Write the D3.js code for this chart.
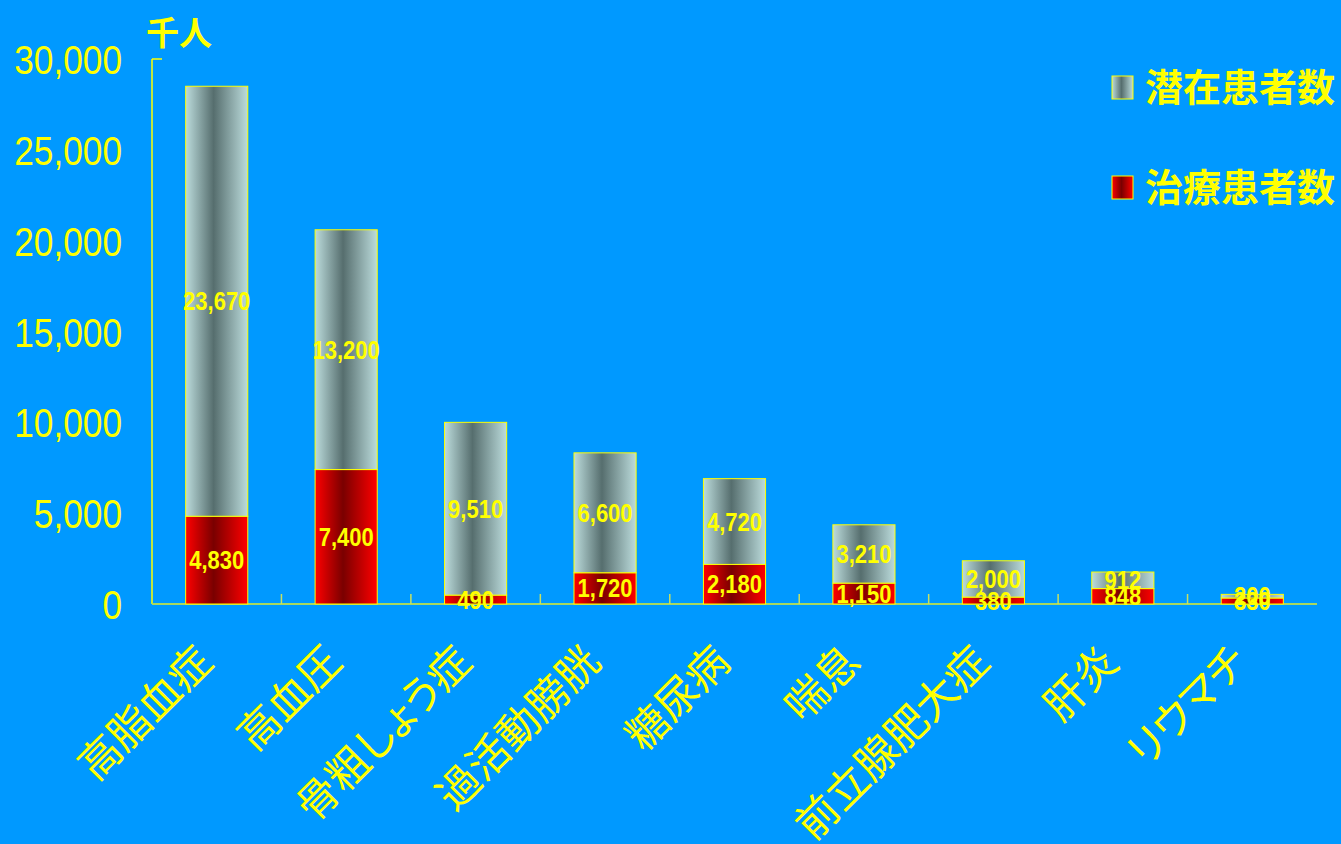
<!DOCTYPE html>
<html>
<head>
<meta charset="utf-8">
<script src="https://cdn.jsdelivr.net/npm/d3@7"></script>
<style>
  body { margin: 0; background: #0099ff; }
  svg { display: block; }
  .cat { font-feature-settings: "palt"; }
</style>
</head>
<body>
<div id="chart"></div>
<script>
// data (thousand people)
const categories = ["高脂血症", "高血圧", "骨粗しょう症", "過活動膀胱", "糖尿病", "喘息", "前立腺肥大症", "肝炎", "リウマチ"];
const treated = [4830, 7400, 490, 1720, 2180, 1150, 380, 848, 330];
const potential = [23670, 13200, 9510, 6600, 4720, 3210, 2000, 912, 200];
const yTicks = [0, 5000, 10000, 15000, 20000, 25000, 30000];
const seriesNames = ["潜在患者数", "治療患者数"];

const W = 1341, H = 844;
const margin = {top: 59, left: 152, right: 24, bottom: 240};
const yellow = "#ffff00";
const sans = "'Liberation Sans', Arial, sans-serif";
const cjk = "'Noto Sans CJK JP', 'Noto Sans', sans-serif";

const svg = d3.select("#chart").append("svg")
    .attr("width", W).attr("height", H);

svg.append("rect").attr("width", W).attr("height", H).attr("fill", "#0099ff");

// gradients
const defs = svg.append("defs");
function grad(id, edge, mid) {
    const g = defs.append("linearGradient").attr("id", id)
        .attr("x1", "0%").attr("x2", "100%").attr("y1", "0%").attr("y2", "0%");
    g.append("stop").attr("offset", "0%").attr("stop-color", edge);
    g.append("stop").attr("offset", "45%").attr("stop-color", mid);
    g.append("stop").attr("offset", "100%").attr("stop-color", edge);
}
grad("gGrey", "#bcdcdc", "#566e6e");
grad("gRed", "#ff0000", "#7a0000");

const x = d3.scaleBand().domain(categories)
    .range([margin.left, W - margin.right])
    .paddingInner(0.52).paddingOuter(0.26);
const xStep = d3.scaleBand().domain(categories)
    .range([margin.left, W - margin.right]);
const y = d3.scaleLinear().domain([0, 30000])
    .range([H - margin.bottom, margin.top]);

const data = categories.map((c, i) => ({cat: c, t: treated[i], p: potential[i]}));

// y axis
svg.append("line")
    .attr("x1", margin.left).attr("x2", margin.left)
    .attr("y1", y(30000)).attr("y2", y(0))
    .attr("stroke", yellow).attr("stroke-width", 1.5);
svg.append("line")
    .attr("x1", margin.left).attr("x2", margin.left + 10)
    .attr("y1", y(30000)).attr("y2", y(30000))
    .attr("stroke", yellow).attr("stroke-width", 1.5);

// narrow-looking numbers: squeeze horizontally
svg.selectAll(".ytick")
    .data(yTicks)
    .join("text")
    .attr("transform", d => `translate(122,${y(d) + 15}) scale(0.86,1)`)
    .attr("text-anchor", "end")
    .attr("font-family", sans)
    .attr("font-size", 41)
    .attr("fill", yellow)
    .text(d => d3.format(",")(d));

// unit
svg.append("text")
    .attr("x", 146).attr("y", 45)
    .attr("font-family", cjk)
    .attr("font-weight", "bold")
    .attr("font-size", 33)
    .attr("fill", yellow)
    .text("千人");

// x baseline and category ticks
svg.append("line")
    .attr("x1", margin.left).attr("x2", W - margin.right)
    .attr("y1", y(0)).attr("y2", y(0))
    .attr("stroke", "#a8d860").attr("stroke-width", 2);
svg.selectAll(".xtick")
    .data(categories.slice(1))
    .join("line")
    .attr("x1", d => xStep(d)).attr("x2", d => xStep(d))
    .attr("y1", y(0)).attr("y2", y(0) - 10)
    .attr("stroke", "#c8e060").attr("stroke-width", 1.5);

// bars
const bars = svg.append("g");
bars.selectAll(".red")
    .data(data)
    .join("rect")
    .attr("x", d => x(d.cat))
    .attr("width", x.bandwidth())
    .attr("y", d => y(d.t))
    .attr("height", d => y(0) - y(d.t))
    .attr("fill", "url(#gRed)")
    .attr("stroke", yellow).attr("stroke-width", 1);
bars.selectAll(".grey")
    .data(data)
    .join("rect")
    .attr("x", d => x(d.cat))
    .attr("width", x.bandwidth())
    .attr("y", d => y(d.t + d.p))
    .attr("height", d => y(d.t) - y(d.t + d.p))
    .attr("fill", "url(#gGrey)")
    .attr("stroke", yellow).attr("stroke-width", 1);

// value labels
const fmt = d3.format(",");
function valLabels(acc, mid) {
    svg.append("g").selectAll("text")
        .data(data)
        .join("text")
        .attr("transform", d => `translate(${x(d.cat) + x.bandwidth() / 2},${mid(d) + 9}) scale(0.88,1)`)
        .attr("text-anchor", "middle")
        .attr("font-family", sans)
        .attr("font-weight", "bold")
        .attr("font-size", 25)
        .attr("fill", yellow)
        .text(d => fmt(acc(d)));
}
valLabels(d => d.p, d => (y(d.t) + y(d.t + d.p)) / 2);
valLabels(d => d.t, d => (y(0) + y(d.t)) / 2);

// category labels
svg.append("g").selectAll("text")
    .data(categories)
    .join("text")
    .attr("class", "cat")
    .attr("transform", d => `translate(${x(d) + x.bandwidth() / 2 - 2},${y(0) + 60}) rotate(-45)`)
    .attr("text-anchor", "end")
    .attr("font-family", cjk)
    .attr("font-size", 42)
    .attr("fill", yellow)
    .text(d => d);

// legend
const legend = svg.append("g");
const lg = legend.selectAll("g")
    .data(seriesNames)
    .join("g")
    .attr("transform", (d, i) => `translate(1112,${76 + i * 100})`);
lg.append("rect")
    .attr("width", 21).attr("height", 23)
    .attr("fill", (d, i) => i === 0 ? "url(#gGrey)" : "url(#gRed)")
    .attr("stroke", yellow).attr("stroke-width", 1);
lg.append("text")
    .attr("x", 33).attr("y", 25)
    .attr("font-family", cjk)
    .attr("font-weight", "bold")
    .attr("font-size", 38)
    .attr("fill", yellow)
    .text(d => d);
</script>
</body>
</html>
